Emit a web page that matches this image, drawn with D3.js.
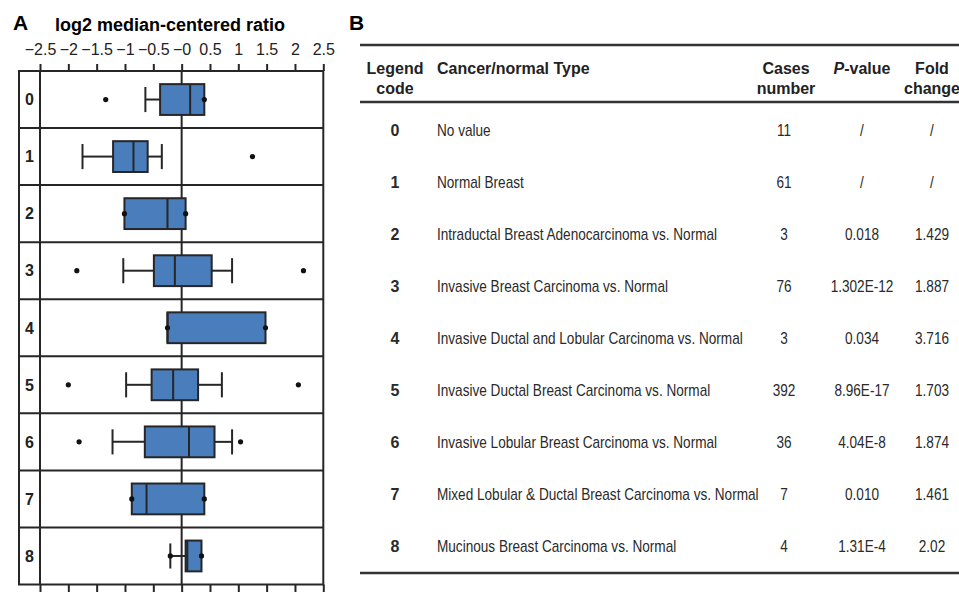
<!DOCTYPE html>
<html>
<head>
<meta charset="utf-8">
<script src="https://cdn.jsdelivr.net/npm/d3@7"></script>
<style>
  body { margin: 0; background: #ffffff; }
  svg { display: block; font-family: "Liberation Sans", Arial, sans-serif; }
</style>
</head>
<body>
<div id="chart"></div>
<script>
// Legend codes shared by the box plot (A) and the table (B)
const codes = ["0", "1", "2", "3", "4", "5", "6", "7", "8"];

// Box plot statistics, log2 median-centered ratio (null = no whisker)
const lowerWhisker = [-0.64, -1.75, null, -1.03, null, -0.98, -1.22, null, -0.20];
const q1 = [-0.38, -1.21, -1.01, -0.49, -0.25, -0.53, -0.65, -0.88, 0.07];
const medians = [0.15, -0.85, -0.25, -0.12, -0.25, -0.15, 0.13, -0.62, 0.10];
const q3 = [0.40, -0.60, 0.07, 0.53, 1.48, 0.29, 0.58, 0.40, 0.35];
const upperWhisker = [null, -0.35, null, 0.89, null, 0.71, 0.89, null, null];
const points = [
    [-1.34, 0.40], [1.25], [-1.01, 0.07], [-1.85, 2.15], [-0.25, 1.48],
    [-2.00, 2.06], [-1.81, 1.04], [-0.88, 0.40], [-0.20, 0.35]
];

// Axis ticks
const tickValues = [-2.5, -2, -1.5, -1, -0.5, 0, 0.5, 1, 1.5, 2, 2.5];
const tickLabels = ["\u22122.5", "\u22122", "\u22121.5", "\u22121", "\u22120.5", "\u22120", "0.5", "1", "1.5", "2", "2.5"];

// Table columns
const cancerTypes = [
    "No value",
    "Normal Breast",
    "Intraductal Breast Adenocarcinoma vs. Normal",
    "Invasive Breast Carcinoma vs. Normal",
    "Invasive Ductal and Lobular Carcinoma vs. Normal",
    "Invasive Ductal Breast Carcinoma vs. Normal",
    "Invasive Lobular Breast Carcinoma vs. Normal",
    "Mixed Lobular & Ductal Breast Carcinoma vs. Normal",
    "Mucinous Breast Carcinoma vs. Normal"
];
const cases = ["11", "61", "3", "76", "3", "392", "36", "7", "4"];
const pValues = ["/", "/", "0.018", "1.302E-12", "0.034", "8.96E-17", "4.04E-8", "0.010", "1.31E-4"];
const foldChanges = ["/", "/", "1.429", "1.887", "3.716", "1.703", "1.874", "1.461", "2.02"];

const ink = "#262626";
const boxBlue = "#4a7dbc";

const svg = d3.select("#chart")
    .append("svg")
    .attr("width", 959)
    .attr("height", 592);

// ---------- Panel A: box plot ----------
const frame = { left: 19, labelRight: 40, right: 323.3, top: 71, bottom: 584.5 };

const x = d3.scaleLinear().domain([-2.5, 2.5]).range([frame.labelRight, frame.right]);
const y = d3.scaleBand().domain(codes).range([frame.top, frame.bottom]).padding(0);

const boxHalf = y.bandwidth() * 0.27;
const capHalf = y.bandwidth() * 0.22;

svg.append("text")
    .attr("x", 13).attr("y", 30)
    .style("font-size", "21px").style("font-weight", "bold")
    .text("A");

svg.append("text")
    .attr("x", 170).attr("y", 31)
    .attr("text-anchor", "middle")
    .style("font-size", "18px").style("font-weight", "bold")
    .text("log2 median-centered ratio");

// top axis with labels
const topAxis = svg.append("g")
    .attr("transform", `translate(0,${frame.top})`)
    .call(d3.axisTop(x).tickValues(tickValues).tickSize(7).tickPadding(9)
        .tickFormat((d, i) => tickLabels[i]));
topAxis.select(".domain").remove();
topAxis.selectAll("line").attr("stroke", ink).attr("stroke-width", 2);
topAxis.selectAll("text").attr("fill", "#222").style("font-size", "16px")
    .style("font-family", "'Liberation Sans', Arial, sans-serif");

// bottom axis, ticks only
const bottomAxis = svg.append("g")
    .attr("transform", `translate(0,${frame.bottom})`)
    .call(d3.axisBottom(x).tickValues(tickValues).tickSize(9).tickFormat(""));
bottomAxis.select(".domain").remove();
bottomAxis.selectAll("line").attr("stroke", ink).attr("stroke-width", 2);

// row separators
svg.append("g").selectAll("line")
    .data(codes.slice(1))
    .join("line")
    .attr("x1", frame.left).attr("x2", frame.right)
    .attr("y1", d => y(d)).attr("y2", d => y(d))
    .attr("stroke", ink).attr("stroke-width", 2);

// zero reference line
svg.append("line")
    .attr("x1", x(0)).attr("x2", x(0))
    .attr("y1", frame.top).attr("y2", frame.bottom)
    .attr("stroke", ink).attr("stroke-width", 2);

// row codes
svg.append("g").selectAll("text")
    .data(codes)
    .join("text")
    .attr("x", (frame.left + frame.labelRight) / 2)
    .attr("y", d => y(d) + y.bandwidth() / 2)
    .attr("dy", "0.36em")
    .attr("text-anchor", "middle")
    .style("font-size", "16px").style("font-weight", "bold")
    .attr("fill", "#222")
    .text(d => d);

// boxes
const rows = svg.append("g").selectAll("g")
    .data(codes)
    .join("g")
    .attr("transform", d => `translate(0,${y(d) + y.bandwidth() / 2})`);

rows.each(function (d, i) {
    const g = d3.select(this);
    if (lowerWhisker[i] !== null) {
        g.append("line")
            .attr("x1", x(lowerWhisker[i])).attr("x2", x(q1[i]))
            .attr("y1", 0).attr("y2", 0)
            .attr("stroke", ink).attr("stroke-width", 2);
        g.append("line")
            .attr("x1", x(lowerWhisker[i])).attr("x2", x(lowerWhisker[i]))
            .attr("y1", -capHalf).attr("y2", capHalf)
            .attr("stroke", ink).attr("stroke-width", 2);
    }
    if (upperWhisker[i] !== null) {
        g.append("line")
            .attr("x1", x(q3[i])).attr("x2", x(upperWhisker[i]))
            .attr("y1", 0).attr("y2", 0)
            .attr("stroke", ink).attr("stroke-width", 2);
        g.append("line")
            .attr("x1", x(upperWhisker[i])).attr("x2", x(upperWhisker[i]))
            .attr("y1", -capHalf).attr("y2", capHalf)
            .attr("stroke", ink).attr("stroke-width", 2);
    }
    g.append("rect")
        .attr("x", x(q1[i]))
        .attr("y", -boxHalf)
        .attr("width", x(q3[i]) - x(q1[i]))
        .attr("height", boxHalf * 2)
        .attr("fill", boxBlue)
        .attr("stroke", ink).attr("stroke-width", 2);
    g.append("line")
        .attr("x1", x(medians[i])).attr("x2", x(medians[i]))
        .attr("y1", -boxHalf).attr("y2", boxHalf)
        .attr("stroke", ink).attr("stroke-width", 2);
    g.selectAll("circle")
        .data(points[i])
        .join("circle")
        .attr("cx", v => x(v)).attr("cy", 0)
        .attr("r", 2.6)
        .attr("fill", "#111");
});

// outer frame
svg.append("rect")
    .attr("x", frame.left).attr("y", frame.top)
    .attr("width", frame.right - frame.left)
    .attr("height", frame.bottom - frame.top)
    .attr("fill", "none").attr("stroke", ink).attr("stroke-width", 2);
svg.append("line")
    .attr("x1", frame.labelRight).attr("x2", frame.labelRight)
    .attr("y1", frame.top).attr("y2", frame.bottom)
    .attr("stroke", ink).attr("stroke-width", 2);

// ---------- Panel B: table ----------
svg.append("text")
    .attr("x", 349).attr("y", 30)
    .style("font-size", "21px").style("font-weight", "bold")
    .text("B");

const table = { left: 360, right: 959, top: 45, headRule: 102, bottom: 573 };
const col = { code: 395, type: 437, cases: 784, p: 862, fold: 932 };
const rowY = d3.scalePoint().domain(codes).range([130, 546]);

[table.top, table.headRule, table.bottom].forEach(ry => {
    svg.append("line")
        .attr("x1", table.left).attr("x2", table.right)
        .attr("y1", ry).attr("y2", ry)
        .attr("stroke", "#333").attr("stroke-width", 2.5);
});

// header
const header = svg.append("g")
    .style("font-size", "16px").style("font-weight", "bold").attr("fill", "#222");
const headCells = [
    { x: col.code, lines: ["Legend", "code"], anchor: "middle" },
    { x: col.type, lines: ["Cancer/normal Type"], anchor: "start" },
    { x: col.cases + 2, lines: ["Cases", "number"], anchor: "middle" },
    { x: col.fold, lines: ["Fold", "change"], anchor: "middle" }
];
headCells.forEach(c => {
    c.lines.forEach((t, k) => {
        header.append("text")
            .attr("x", c.x).attr("y", 68 + k * 20)
            .attr("dy", "0.36em")
            .attr("text-anchor", c.anchor)
            .text(t);
    });
});
const pHead = header.append("text")
    .attr("x", col.p).attr("y", 68).attr("dy", "0.36em")
    .attr("text-anchor", "middle");
pHead.append("tspan").style("font-style", "italic").text("P");
pHead.append("tspan").text("-value");

// body
const body = svg.append("g").attr("fill", "#2a2a2a");

body.selectAll(".code")
    .data(codes)
    .join("text")
    .attr("class", "code")
    .attr("x", col.code).attr("y", d => rowY(d)).attr("dy", "0.36em")
    .attr("text-anchor", "middle")
    .style("font-size", "16px").style("font-weight", "bold")
    .text(d => d);

const narrow = 0.85;
function narrowColumn(values, xPos, anchor) {
    body.append("g").selectAll("text")
        .data(values)
        .join("text")
        .attr("transform", (d, i) => `translate(${xPos},${rowY(codes[i])}) scale(${narrow},1)`)
        .attr("dy", "0.36em")
        .attr("text-anchor", anchor)
        .style("font-size", "16px")
        .text(d => d);
}
narrowColumn(cancerTypes, col.type, "start");
narrowColumn(cases, col.cases, "middle");
narrowColumn(pValues, col.p, "middle");
narrowColumn(foldChanges, col.fold, "middle");
</script>
</body>
</html>
